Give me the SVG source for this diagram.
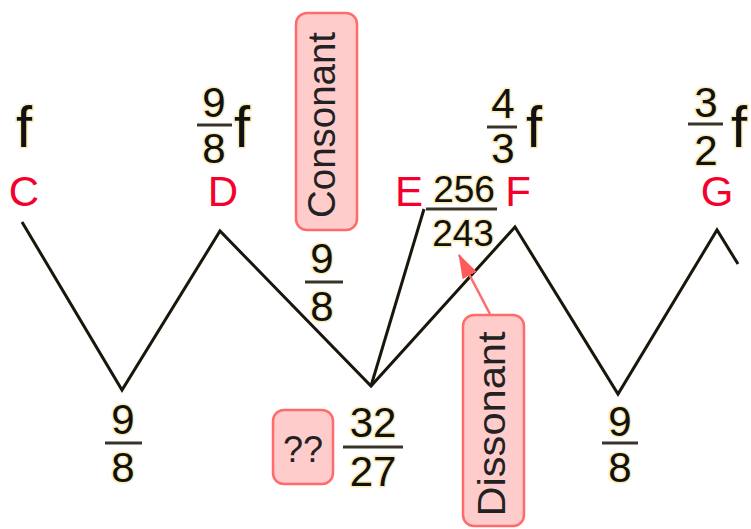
<svg xmlns="http://www.w3.org/2000/svg" width="751" height="529" viewBox="0 0 751 529">
<defs>
<style>
text{font-family:"Liberation Sans",Arial,sans-serif}
.note{fill:#f5002d;font-size:42px;text-anchor:middle}
.num{fill:#111;font-size:42px;text-anchor:middle;stroke:#fbedb5;stroke-width:3;paint-order:stroke}
.sm{font-size:37px}
.ff{fill:#111;font-size:58px;stroke:#fbedb5;stroke-width:3;paint-order:stroke}
.bar{stroke:#3a3428;stroke-width:3}
.box{fill:#ffcccc;stroke:#ff6b6b;stroke-width:2.5}
.boxtxt{fill:#222;font-size:38px;text-anchor:middle}
.zig{fill:none;stroke:#1a160c;stroke-width:3;stroke-linejoin:miter}
.arr{stroke:#ff6b6b;stroke-width:2.5}
</style>
<marker id="ah" viewBox="0 0 10 10" refX="9" refY="5" markerWidth="8" markerHeight="6" orient="auto" markerUnits="userSpaceOnUse">
<path d="M0,0 L10,5 L0,10 z" fill="#ff5a5a"/>
</marker>
<marker id="ah2" viewBox="0 0 24 16" refX="23" refY="8" markerWidth="24" markerHeight="16" orient="auto" markerUnits="userSpaceOnUse">
<path d="M0,0 L24,8 L0,16 z" fill="#ff5a5a"/>
</marker>
</defs>
<rect width="751" height="529" fill="#ffffff"/>

<g id="connectors">
<polyline class="zig" points="22,222 122,390 220,231 371,386 515,227 618,394 717,230 738,264"/>
<line class="zig" x1="371" y1="386" x2="424" y2="209"/>
<line class="arr" x1="490" y1="314" x2="459" y2="255" marker-end="url(#ah2)"/>
</g>

<g id="noteC">
<text class="ff" x="16" y="147">f</text>
<text class="note" x="24" y="206">C</text>
</g>

<g id="noteD">
<text class="num" x="214" y="117">9</text>
<line class="bar" x1="197" y1="125" x2="232" y2="125"/>
<text class="num" x="214" y="163">8</text>
<text class="ff" x="234" y="147">f</text>
<text class="note" x="223" y="206">D</text>
</g>

<g id="noteE">
<text class="note" x="409" y="206">E</text>
</g>

<g id="noteF">
<text class="num" x="503" y="118">4</text>
<line class="bar" x1="487" y1="127" x2="517" y2="127"/>
<text class="num" x="503" y="163">3</text>
<text class="ff" x="526" y="147">f</text>
<text class="note" x="518" y="206">F</text>
</g>

<g id="noteG">
<text class="num" x="706" y="117">3</text>
<line class="bar" x1="688" y1="124" x2="723" y2="124"/>
<text class="num" x="706" y="165">2</text>
<text class="ff" x="731" y="147">f</text>
<text class="note" x="717" y="206">G</text>
</g>

<g id="intervalEF">
<text class="num sm" x="464" y="202">256</text>
<line class="bar" x1="426" y1="209" x2="497" y2="209"/>
<text class="num sm" x="463" y="246">243</text>
</g>

<g id="intervalDE">
<text class="num" x="322" y="273">9</text>
<line class="bar" x1="305" y1="282" x2="343" y2="282"/>
<text class="num" x="322" y="321">8</text>
</g>

<g id="intervalCD">
<text class="num" x="123" y="434">9</text>
<line class="bar" x1="105" y1="443" x2="142" y2="443"/>
<text class="num" x="123" y="482">8</text>
</g>

<g id="intervalFG">
<text class="num" x="620" y="436">9</text>
<line class="bar" x1="602" y1="443" x2="638" y2="443"/>
<text class="num" x="620" y="482">8</text>
</g>

<g id="intervalDF">
<text class="num" x="373" y="437">32</text>
<line class="bar" x1="343" y1="447" x2="403" y2="447"/>
<text class="num" x="373" y="486">27</text>
</g>

<g id="consonant">
<rect class="box" x="296" y="13" width="61" height="217" rx="11"/>
<text class="boxtxt" transform="translate(335,125) rotate(-90)" x="0" y="0" textLength="186" lengthAdjust="spacingAndGlyphs">Consonant</text>
</g>

<g id="dissonant">
<rect class="box" x="463" y="315" width="61" height="211" rx="11"/>
<text class="boxtxt" transform="translate(505,424) rotate(-90)" x="0" y="0" textLength="185" lengthAdjust="spacingAndGlyphs">Dissonant</text>
</g>

<g id="unknown">
<rect class="box" x="273" y="410" width="60" height="74" rx="11"/>
<text class="boxtxt" x="303" y="462" style="font-size:36px">??</text>
</g>
</svg>
